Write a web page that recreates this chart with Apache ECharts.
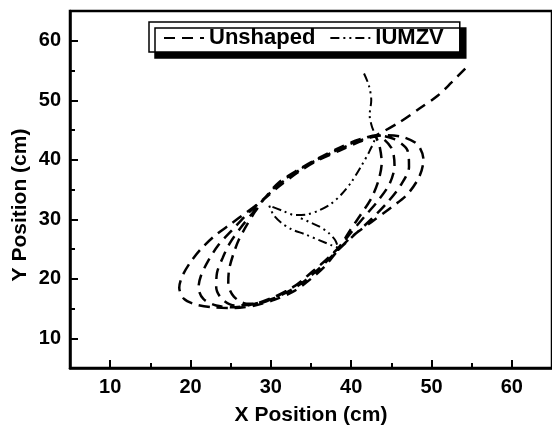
<!DOCTYPE html>
<html>
<head>
<meta charset="utf-8">
<script src="https://cdn.jsdelivr.net/npm/echarts@6/dist/echarts.min.js"></script>
<style>html,body{margin:0;padding:0;background:#fff}#c{width:552px;height:431px}</style>
</head>
<body>
<div id="c"></div>
<script>
var xMajorTicks = [10, 20, 30, 40, 50, 60];
var xMinorTicks = [15, 25, 35, 45, 55];
var yMajorTicks = [10, 20, 30, 40, 50, 60];
var yMinorTicks = [15, 25, 35, 45, 55];
var seriesNames = ['Unshaped', 'IUMZV'];

var unshapedX = [54.2,52.5,50.8,48.5,46,43.2,
 41,38.5,36,33.5,31,29,27,25,23,21.3,20,19,18.6,19.2,20.6,22.8,25.5,28,30.5,33,35,36.8,38.3,40,42.5,45,47,48.5,49,48.3,46.5,44.5,43.2,
 41,38.5,36,33.5,31,29,27,25.2,23.5,22.2,21.3,21,21.6,23.2,25.5,28,30.5,33,35,37,38.5,40.5,42.5,44.5,46.2,47.2,47,45.3,43.2,
 41,38.5,36,33.5,31,29.2,27.7,26.2,24.9,24,23.3,23.2,23.9,25.5,28,30.5,33,35,37,38.5,40,41.7,43.4,44.8,45.4,45,43.2,
 41,38.5,36,33.5,31,29.4,28.1,27,26,25.3,24.8,24.7,25.4,27,29,31,33.2,35.2,37.2,38.6,39.8,41.2,42.5,43.4,43.8,43.5,43];
var unshapedY = [55.3,53,50.8,48.6,46.3,44.2,
 43,41.5,40,38,35.5,33.2,31.2,29.2,27.2,25,22.8,20.5,18.5,16.6,15.7,15.2,15.1,15.5,16.5,18,20,22.2,24.7,27,29.5,32,34.2,37.2,40,42.5,43.8,44.1,44,
 43.2,41.7,40.2,38.2,35.8,33.3,30.8,28.2,25.7,23,20.5,18.5,16.6,15.5,15.2,15.8,16.8,18.5,20.5,23,25,27.5,30,32.8,35.8,38.8,41.6,43.5,44.1,
 43.3,41.8,40.2,38.3,36,33.5,31,28.5,26,23.5,21,18.6,16.6,15.5,15.8,17,18.8,21,23.3,25.3,27.8,30.5,33.2,36,39,42,44,
 43.4,42,40.3,38.4,36.2,33.8,31.4,29,26.5,24,21.5,19.2,17,15.8,16,17.2,19,21.2,23.6,25.5,28,30.8,33.5,36.5,39.5,42.5,44];

var iumzvX = [41.6,42.2,42.5,42.3,42.6,43,42.3,41.2,40,38.8,37.5,36,34.5,33,31.5,29.8,30.3,31.3,32.6,34.2,36,37.6,38.4,38,37.2,36,34.7,33.5];
var iumzvY = [54.5,52.5,50,47.5,45.5,44,41.5,38.8,36.2,34.2,32.6,31.5,30.8,30.7,31.4,32.3,30.8,29.4,28.3,27.5,26.5,25.6,25.2,26.5,27.7,28.8,29.6,30.3];

function zip(xs, ys) { return xs.map(function (x, i) { return [x, ys[i]]; }); }

var FONT = '"Liberation Sans", Arial, sans-serif';
var chart = echarts.init(document.getElementById('c'), null, { renderer: 'canvas' });

function mainAxis(pos, majors) {
  return {
    type: 'value', position: pos, min: 5, max: 65, interval: 5,
    gridIndex: 0,
    axisLine: { show: true, onZero: false, lineStyle: { color: '#000', width: 2.5 } },
    axisTick: { show: true, inside: true, length: 8, customValues: majors, lineStyle: { color: '#000', width: 2 } },
    axisLabel: { show: true, customValues: majors, color: '#000', fontFamily: FONT, fontWeight: 'bold', fontSize: 20, margin: 9 },
    splitLine: { show: false }
  };
}
function minorAxis(pos, minors) {
  return {
    type: 'value', position: pos, min: 5, max: 65, interval: 5,
    gridIndex: 0,
    axisLine: { show: false, onZero: false },
    axisTick: { show: true, inside: true, length: 5, customValues: minors, lineStyle: { color: '#000', width: 2 } },
    axisLabel: { show: false },
    splitLine: { show: false }
  };
}

var xMain = mainAxis('bottom', xMajorTicks);
xMain.name = 'X Position (cm)';
xMain.nameLocation = 'middle';
xMain.nameGap = 37;
xMain.nameTextStyle = { color: '#000', fontFamily: FONT, fontWeight: 'bold', fontSize: 21 };
var yMain = mainAxis('left', yMajorTicks);

chart.setOption({
  animation: false,
  backgroundColor: '#fff',
  grid: { left: 70, top: 11, width: 485, height: 359, show: true, borderColor: '#000', borderWidth: 2.5, backgroundColor: 'transparent' },
  xAxis: [xMain, minorAxis('bottom', xMinorTicks)],
  yAxis: [yMain, minorAxis('left', yMinorTicks)],
  legend: {
    data: seriesNames,
    left: 149, top: 22,
    orient: 'horizontal',
    padding: [5, 16, 3, 14],
    itemWidth: 40, itemHeight: 14, itemGap: 14,
    backgroundColor: '#fff', borderColor: '#000', borderWidth: 1.5,
    shadowColor: '#000', shadowBlur: 0, shadowOffsetX: 6, shadowOffsetY: 6,
    itemStyle: { color: 'transparent', borderWidth: 0, opacity: 0 },
    textStyle: { color: '#000', fontFamily: FONT, fontWeight: 'bold', fontSize: 22 }
  },
  graphic: [{
    type: 'text', x: 20, y: 205, rotation: Math.PI / 2,
    style: { text: 'Y Position (cm)', fill: '#000', font: 'bold 21px ' + FONT, textAlign: 'center', textVerticalAlign: 'middle' }
  }],
  series: [
    {
      name: seriesNames[0], type: 'line', xAxisIndex: 0, yAxisIndex: 0,
      data: zip(unshapedX, unshapedY), showSymbol: false, symbol: 'none', smooth: 0.3,
      lineStyle: { color: '#000', width: 2.5, type: [11, 7] }, itemStyle: { color: '#000' }
    },
    {
      name: seriesNames[1], type: 'line', xAxisIndex: 0, yAxisIndex: 0,
      data: zip(iumzvX, iumzvY), showSymbol: false, symbol: 'none', smooth: 0.3,
      lineStyle: { color: '#000', width: 2, type: [9, 4, 2, 4, 2, 4] }, itemStyle: { color: '#000' }
    }
  ]
});
</script>
</body>
</html>
